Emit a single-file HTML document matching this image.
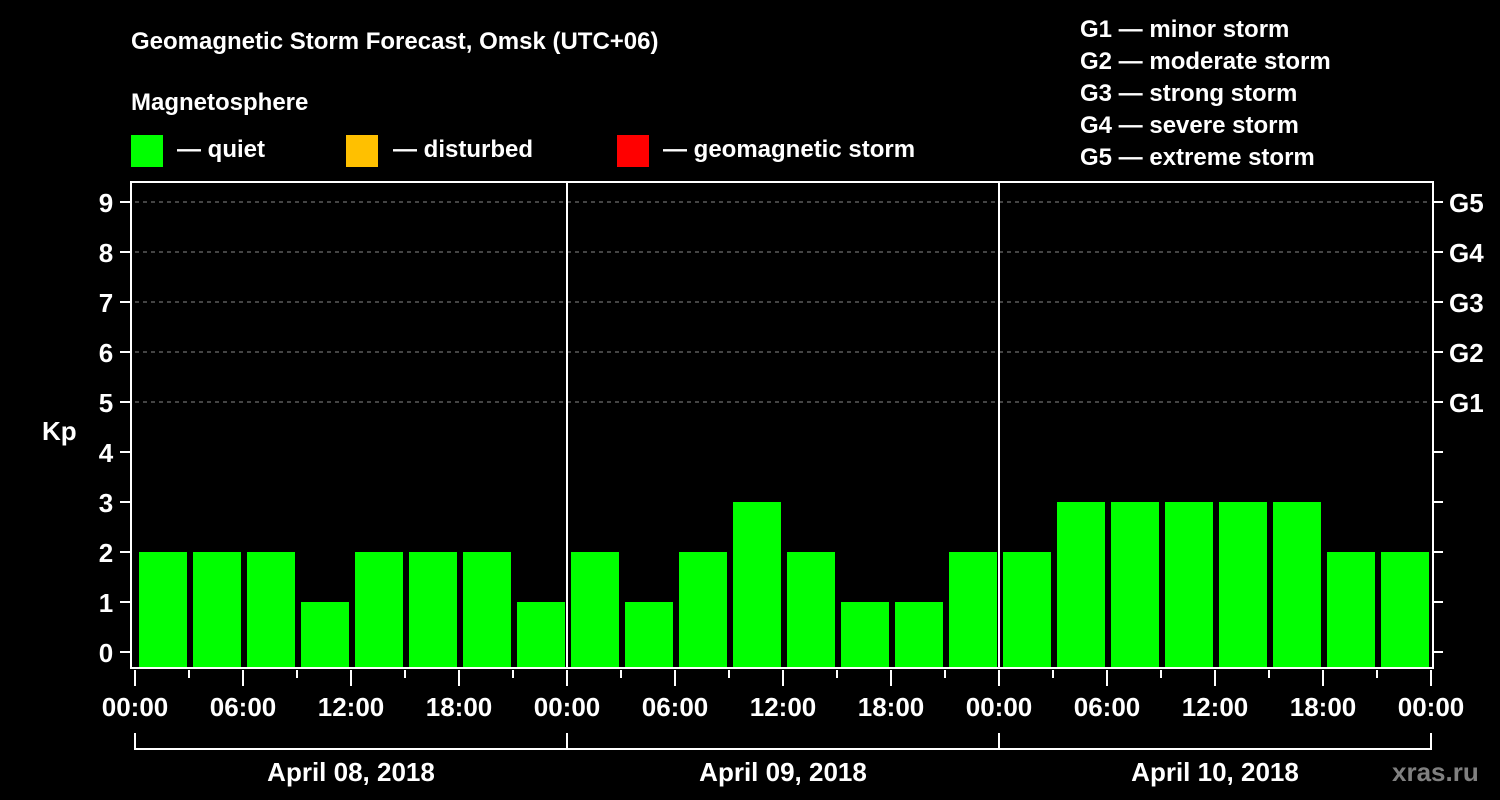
<!DOCTYPE html>
<html><head><meta charset="utf-8"><style>
html,body{margin:0;padding:0;background:#000;}
svg{display:block;}
text{font-family:"Liberation Sans",Arial,sans-serif;font-weight:bold;fill:#fff;}
</style></head><body>
<svg id="chart" width="1500" height="800" viewBox="0 0 1500 800" xmlns="http://www.w3.org/2000/svg">
<rect width="1500" height="800" fill="#000"/>
<text x="131" y="49" font-size="24">Geomagnetic Storm Forecast, Omsk (UTC+06)</text>
<text x="131" y="110" font-size="24">Magnetosphere</text>
<rect x="131" y="135" width="32" height="32" fill="#00ff00"/>
<text x="177" y="157" font-size="24">— quiet</text>
<rect x="346" y="135" width="32" height="32" fill="#ffc000"/>
<text x="393" y="157" font-size="24">— disturbed</text>
<rect x="617" y="135" width="32" height="32" fill="#ff0000"/>
<text x="663" y="157" font-size="24">— geomagnetic storm</text>
<g font-size="24">
<text x="1080" y="37">G1 — minor storm</text>
<text x="1080" y="69">G2 — moderate storm</text>
<text x="1080" y="101">G3 — strong storm</text>
<text x="1080" y="133">G4 — severe storm</text>
<text x="1080" y="165">G5 — extreme storm</text>
</g>
<text x="42" y="440" font-size="26">Kp</text>
<text x="1392" y="781" font-size="26" style="fill:#808080">xras.ru</text>
<g id="plot"></g>
</svg>
<script>
const kpValues = [2,2,2,1,2,2,2,1, 2,1,2,3,2,1,1,2, 2,3,3,3,3,3,2,2];
const kpTicks = [0,1,2,3,4,5,6,7,8,9];
const gLabels = ["G1","G2","G3","G4","G5"];
const gLevels = [5,6,7,8,9];
const timeLabels = ["00:00","06:00","12:00","18:00","00:00","06:00","12:00","18:00","00:00","06:00","12:00","18:00","00:00"];
const dayLabels = ["April 08, 2018","April 09, 2018","April 10, 2018"];

const NS="http://www.w3.org/2000/svg";
const g=document.getElementById('plot');
const X0=135, STEP=54, N=kpValues.length, X1=X0+STEP*N;
const TOP=182, BOTTOM=668;
function xBand(i){return X0+i*STEP;}
function yKp(v){return 652-v*50;}
function mk(tag,attrs){const e=document.createElementNS(NS,tag);for(const k in attrs)e.setAttribute(k,attrs[k]);g.appendChild(e);return e;}
function color(v){return v>=5?'#ff0000':(v>=4?'#ffc000':'#00ff00');}

// gridlines
kpTicks.forEach(v=>{
  if(v>=5){
    const l=mk('line',{x1:X0,x2:X1,y1:yKp(v),y2:yKp(v),stroke:'#888','stroke-width':1,'stroke-dasharray':'4,4'});
    
    
  }
});
// bars
kpValues.forEach((v,i)=>{
  const r=mk('rect',{x:xBand(i)+4,y:yKp(v),width:STEP-6,height:667-yKp(v),fill:color(v)});
  
  
});
// frame
const fr=mk('rect',{x:131,y:TOP,width:X1+2-131,height:BOTTOM-TOP,fill:'none',stroke:'#fff','stroke-width':2});


// day dividers
[1,2].forEach(d=>{
  const x=xBand(d*8);
  const l=mk('line',{x1:x,x2:x,y1:TOP,y2:BOTTOM,stroke:'#fff','stroke-width':2});
  
  
});
// left y ticks and labels
kpTicks.forEach(v=>{
  const y=yKp(v);
  const t=mk('line',{x1:120,x2:131,y1:y,y2:y,stroke:'#fff','stroke-width':2});
  
  
  const tx=mk('text',{x:106,y:y+10,'font-size':26,'text-anchor':'middle'});
  tx.textContent=v;
  
  
  const rt=mk('line',{x1:X1+2,x2:X1+12,y1:y,y2:y,stroke:'#fff','stroke-width':2});
  
  
});
gLabels.forEach((s,i)=>{
  const tx=mk('text',{x:1449,y:yKp(gLevels[i])+10,'font-size':26});
  tx.textContent=s;
  
  
});
// x ticks
for(let i=0;i<=N;i++){
  const x=xBand(i), long=i%2===0;
  const t=mk('line',{x1:x,x2:x,y1:670,y2:long?686:678,stroke:'#fff','stroke-width':2});
  
  
}
timeLabels.forEach((s,i)=>{
  const tx=mk('text',{x:xBand(i*2),y:716,'font-size':26,'text-anchor':'middle'});
  tx.textContent=s;
  
  
});
// day brackets
const br=mk('path',{d:`M${X0} 733 V749 H${X1} V733 M${xBand(8)} 733 V749 M${xBand(16)} 733 V749`,stroke:'#fff','stroke-width':2,fill:'none'});


dayLabels.forEach((s,d)=>{
  const tx=mk('text',{x:xBand(d*8+4),y:781,'font-size':26,'text-anchor':'middle'});
  tx.textContent=s;
  
  
});
</script>
</body></html>
